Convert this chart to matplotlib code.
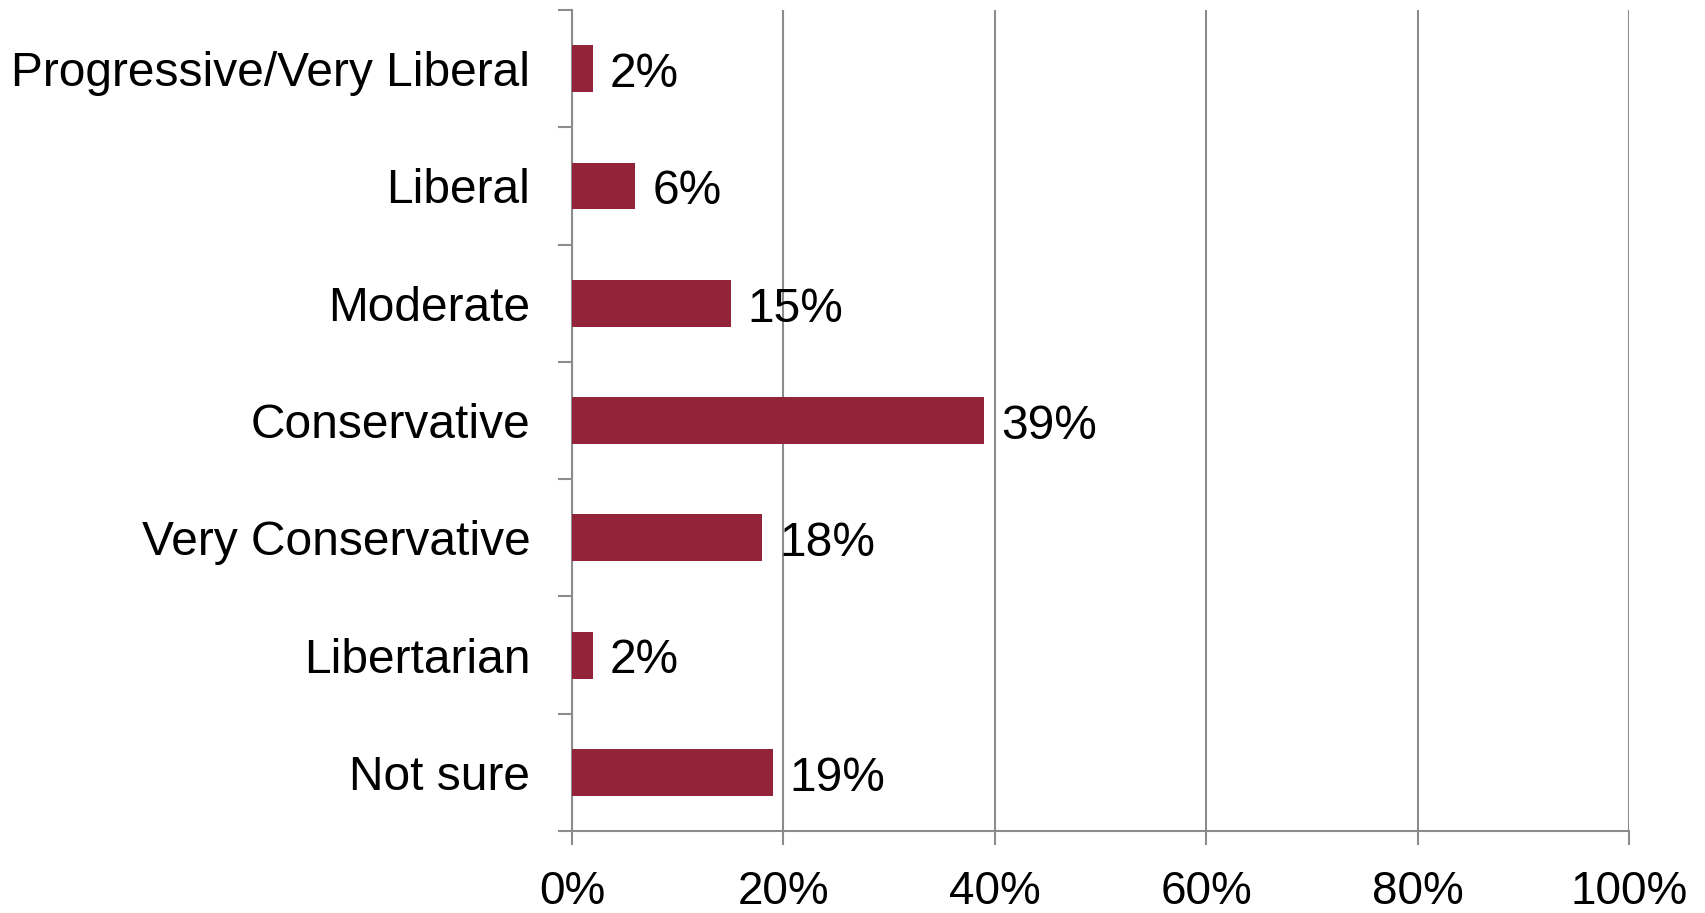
import numpy as np
import matplotlib.pyplot as plt

categories = ['Progressive/Very Liberal', 'Liberal', 'Moderate', 'Conservative',
              'Very Conservative', 'Libertarian', 'Not sure']
values = [2, 6, 15, 39, 18, 2, 19]
xticks = [0, 20, 40, 60, 80, 100]

plt.rcParams['font.family'] = ['Liberation Sans', 'DejaVu Sans']
grey = '#8c8c8c'

fig = plt.figure(figsize=(17.05, 9.13), dpi=100)
ax = fig.add_axes([0.3355, 0.0898, 0.6199, 0.8992])

y = np.arange(len(categories))
ax.barh(y, values, height=0.4, color='#922338', zorder=3)
for yi, v in zip(y, values):
    ax.text(v + 1.6, yi + 0.05, '%d%%' % v, va='center', ha='left', fontsize=34.5, zorder=4)

ax.set_xlim(0, 100)
ax.set_ylim(len(categories) - 0.5, -0.5)
ax.set_xticks(xticks)
ax.set_xticklabels(['%d%%' % t for t in xticks], fontsize=33)
ax.set_yticks(y)
ax.set_yticklabels(categories, fontsize=34.5)
ax.set_yticks(np.arange(-0.5, len(categories)), minor=True)

ax.tick_params(axis='y', which='major', length=0, pad=30)
ax.tick_params(axis='y', which='minor', length=10, width=1.5, color=grey)
ax.tick_params(axis='x', length=10, width=1.5, color=grey, pad=18)

ax.grid(axis='x', color=grey, linewidth=1.5, zorder=0)
for s in ['top', 'right']:
    ax.spines[s].set_visible(False)
for s in ['left', 'bottom']:
    ax.spines[s].set_color(grey)
    ax.spines[s].set_linewidth(1.5)

fig.savefig('out.png', dpi=100)
